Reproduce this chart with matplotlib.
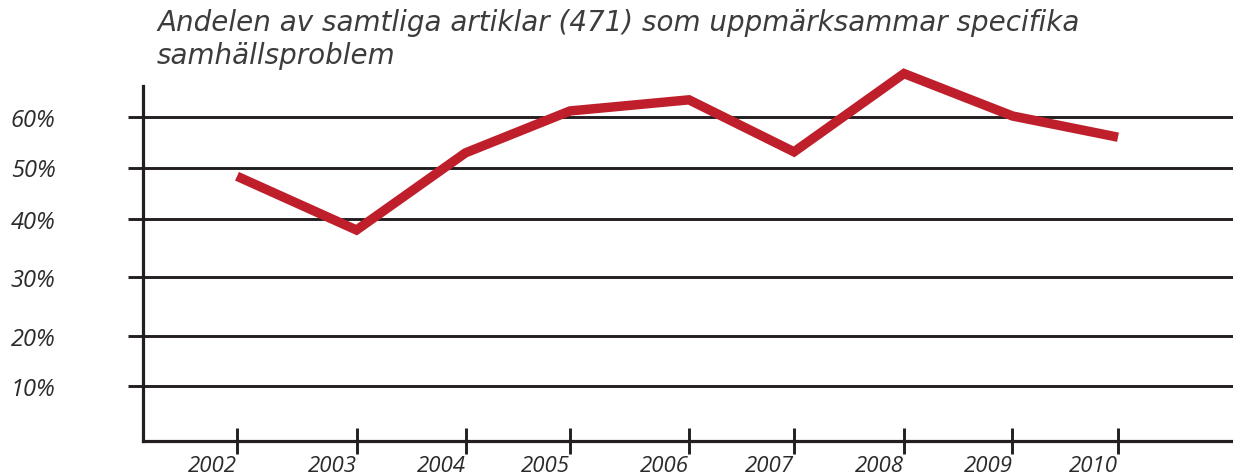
import matplotlib.pyplot as plt
import numpy as np

# Data
years = [2002, 2003, 2004, 2005, 2006, 2007, 2008, 2009, 2010]
share = [48.3, 38.1, 52.9, 61.2, 63.4, 53.1, 68.6, 60.2, 56.0]
grid_vals = [10, 20, 30, 40, 50, 60]
title = "Andelen av samtliga artiklar (471) som uppmärksammar specifika\nsamhällsproblem"

# Hand-drawn axis: gridlines and year ticks are not evenly spaced (pixel layout)
y_pos = [55, 105, 164, 222, 273.5, 324]
x_pos = [237, 356.5, 465.5, 570, 689, 794, 904, 1012.5, 1118]


def piecewise(xk, yk):
    xk = np.asarray(xk, float)
    yk = np.asarray(yk, float)

    def f(v):
        v = np.asarray(v, float)
        out = np.interp(v, xk, yk)
        lo_slope = (yk[1] - yk[0]) / (xk[1] - xk[0])
        hi_slope = (yk[-1] - yk[-2]) / (xk[-1] - xk[-2])
        out = np.where(v < xk[0], yk[0] + (v - xk[0]) * lo_slope, out)
        out = np.where(v > xk[-1], yk[-1] + (v - xk[-1]) * hi_slope, out)
        return out

    return f


W, H = 1233, 477
fig = plt.figure(figsize=(W / 100, H / 100), dpi=100)
ax = fig.add_axes([143 / W, (H - 442) / H, (W - 143) / W, (442 - 87) / H])

ax.set_xscale("function", functions=(piecewise(years, x_pos), piecewise(x_pos, years)))
ax.set_yscale("function", functions=(piecewise(grid_vals, y_pos), piecewise(y_pos, grid_vals)))
ax.set_xlim(piecewise(x_pos, years)([143, W]))
ax.set_ylim(piecewise(y_pos, grid_vals)([0, 355]))

ink = "#231f20"
for s in ["top", "right"]:
    ax.spines[s].set_visible(False)
for s in ["left", "bottom"]:
    ax.spines[s].set_linewidth(2.3)
    ax.spines[s].set_color(ink)

ax.set_yticks(grid_vals)
ax.set_yticklabels([f"{v}%" for v in grid_vals])
ax.set_xticks(years)
ax.set_xticklabels([str(y) for y in years], ha="right")
ax.minorticks_off()

ax.grid(axis="y", color=ink, linewidth=2.1)
ax.tick_params(axis="y", direction="out", length=11, width=2.1, color=ink, pad=52)
ax.tick_params(axis="x", direction="inout", length=19, width=2.1, color=ink, pad=0.5)
for lab in ax.get_yticklabels():
    lab.set_fontsize(17)
for lab in ax.get_xticklabels():
    lab.set_fontsize(16)
for lab in ax.get_yticklabels() + ax.get_xticklabels():
    lab.set_fontfamily("Open Sans")
    lab.set_fontstyle("italic")
    lab.set_color("#2b2b2b")

ax.plot(years, share, color="#bf1f2b", linewidth=6.8, solid_joinstyle="miter",
        solid_capstyle="butt", clip_on=False, zorder=3)

fig.text(157 / W, 1 - 9 / H, title, ha="left", va="top", fontsize=20,
         fontstyle="italic", family="DejaVu Sans", color="#3c3c3c", linespacing=1.22)

fig.savefig("out.png", dpi=100)
